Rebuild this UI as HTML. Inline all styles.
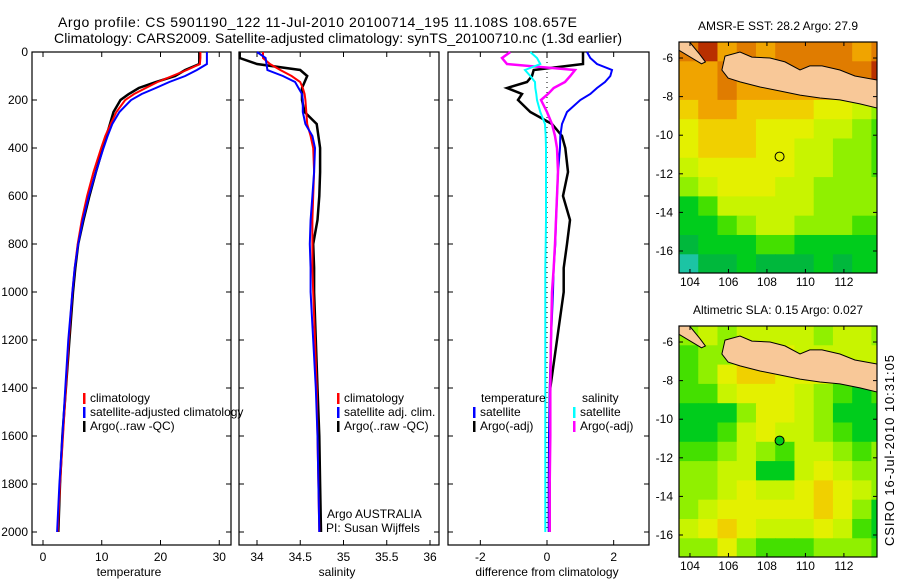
<!DOCTYPE html>
<html><head><meta charset="utf-8"><style>
html,body{margin:0;padding:0;background:#fff;}
svg{display:block;font-family:"Liberation Sans",sans-serif;}
</style></head><body>
<svg id="fig" width="900" height="580" viewBox="0 0 900 580" xmlns="http://www.w3.org/2000/svg">
<text x="58" y="27" font-size="14" textLength="519">Argo profile: CS 5901190_122 11-Jul-2010 20100714_195 11.108S 108.657E</text>
<text x="54" y="43" font-size="14" textLength="568">Climatology: CARS2009. Satellite-adjusted climatology: synTS_20100710.nc (1.3d earlier)</text>
<text transform="translate(894,546) rotate(-90)" font-size="13" textLength="191">CSIRO 16-Jul-2010 10:31:05</text>
</svg>
<script>
// ---------- DATA ----------
const depths = [0,25,50,75,100,125,150,175,200,250,300,350,400,500,600,700,800,900,1000,1200,1400,1600,1800,2000];
const tempClim = [26.8,26.8,26.7,24.5,22,19.5,17.5,15.5,14,12.5,11.5,10.6,9.9,8.6,7.5,6.6,5.9,5.4,5.0,4.4,3.9,3.4,2.9,2.5];
const tempSat  = [27.9,27.9,27.9,26.2,24.2,21.5,19.2,16.8,15,13,11.8,11,10.3,9,7.8,6.8,6.0,5.4,5.0,4.3,3.8,3.3,2.8,2.4];
const tempArgo = [26.6,26.6,26.6,24.2,22.5,19.2,16.3,14.6,13.2,12,11.4,10.8,10.2,9,7.9,6.9,6.0,5.5,5.1,4.5,3.9,3.3,2.9,2.6];
const salClim  = [34.07,34.07,34.15,34.27,34.4,34.5,34.53,34.55,34.56,34.57,34.58,34.62,34.65,34.66,34.65,34.64,34.64,34.64,34.65,34.67,34.69,34.7,34.71,34.72];
const salSat   = [34.0,34.1,34.11,34.12,34.3,34.44,34.48,34.52,34.53,34.53,34.56,34.64,34.67,34.66,34.64,34.62,34.61,34.62,34.62,34.65,34.68,34.7,34.71,34.72];
const salArgo  = [33.8,33.8,34.0,34.5,34.58,34.55,34.52,34.52,34.52,34.55,34.69,34.71,34.73,34.73,34.72,34.7,34.65,34.66,34.66,34.68,34.7,34.72,34.73,34.74];
const dTempSat  = [1.2,1.3,1.5,1.95,1.9,1.74,1.5,1.3,1.0,0.6,0.45,0.4,0.39,0.33,0.3,0.27,0.25,0.2,0.18,0.12,0.08,0.06,0.05,0.05];
const dTempArgo = [1.08,1.08,1.08,-0.4,-0.45,-0.6,-1.2,-0.75,-0.87,-0.5,0.15,0.45,0.55,0.63,0.48,0.69,0.6,0.5,0.5,0.3,0.1,0.08,0.08,0.08];
const dSalSat   = [-0.5,-0.3,-0.2,-0.66,-0.5,-0.36,-0.35,-0.32,-0.3,-0.2,-0.06,-0.04,-0.03,-0.03,-0.03,-0.03,-0.04,-0.05,-0.05,-0.05,-0.05,-0.05,-0.05,-0.05];
const dSalArgo  = [-1.1,-1.35,-1.2,0.84,0.7,0.54,0.2,0.03,-0.18,0,0.15,0.24,0.3,0.33,0.3,0.27,0.24,0.2,0.15,0.12,0.1,0.1,0.08,0.08];
const depthTicks = [0,200,400,600,800,1000,1200,1400,1600,1800,2000];
const tempTicks = [0,10,20,30];
const salTicks = [34,34.5,35,35.5,36];
const diffTicks = [-2,0,2];
const lonTicks = [104,106,108,110,112];
const latTicks = [-6,-8,-10,-12,-14,-16];
const sstGrid = [
[9,10,8,9,8,9,9,9,9,8,9],
[8,8,9,8,9,9,9,9,9,9,10],
[8,8,9,8,8,8,8,8,8,8,8],
[7,8,8,7,7,7,7,6,6,5,4],
[6,7,7,7,6,6,6,5,5,4,3],
[6,7,7,7,6,6,5,5,4,4,3],
[5,6,6,6,6,6,5,5,4,4,3],
[4,5,6,6,6,5,5,4,4,4,4],
[2,3,5,5,5,5,5,4,4,4,4],
[2,2,3,4,5,5,4,4,4,3,3],
[1,2,2,2,3,3,2,2,2,2,2],
[0,1,1,2,1,1,1,2,1,2,2]];
const slaGrid = [
[4,5,4,5,5,5,5,4,5,5,4],
[3,4,4,5,6,6,5,5,5,5,5],
[3,4,6,7,7,6,6,6,5,5,5],
[3,3,5,6,6,6,5,4,3,2,3],
[2,2,2,4,6,6,5,4,2,2,2],
[2,2,3,5,6,5,5,4,3,2,2],
[3,3,4,5,4,3,5,5,4,3,4],
[4,4,5,5,2,2,5,6,5,4,4],
[4,4,5,6,5,5,6,7,6,5,4],
[4,5,6,6,6,6,6,7,6,4,2],
[5,6,7,6,5,5,5,6,5,3,2],
[4,4,6,4,3,3,3,4,4,4,3]];
const palette = ["#1cc4a4","#00b83c","#00cc1c","#44e000","#90f000","#c8f400","#e4f000","#f0d000","#f0a400","#e07c00","#b83000"];
const javaLon = [105.82,106.6,107.22,108.16,108.94,109.72,110.23,110.86,111.79,112.57,113.72,113.72,112.83,111.79,110.76,109.72,108.68,107.64,106.6,105.98,105.66];
const javaLat = [-5.9,-5.69,-5.95,-6.0,-6.2,-6.62,-6.41,-6.41,-6.62,-6.93,-7.14,-8.59,-8.38,-8.17,-8.07,-7.92,-7.71,-7.5,-7.24,-7.04,-6.62];
const sumLon = [103.43,103.98,104.5,104.8,104.6,103.43];
const sumLat = [-5.17,-5.17,-5.8,-6.2,-6.3,-5.6];
const argoLon = 108.657, argoLat = -11.108;

// ---------- HELPERS ----------
const NS = "http://www.w3.org/2000/svg";
const svg = document.getElementById("fig");
function mk(tag, attrs, parent){const e=document.createElementNS(NS,tag);for(const k in attrs)e.setAttribute(k,attrs[k]);(parent||svg).appendChild(e);return e;}
const yD = d => 52 + d*0.24;
const P = {top:52,bot:545};
function panel(x0,x1,vmin,vmax,name){return {x0,x1,sx:v=>x0+(v-vmin)/(vmax-vmin)*(x1-x0),name};}
const p1 = panel(32,231,-1.87,32.0,"temperature");
const p2 = panel(239,439,33.792,36.104,"salinity");
const p3 = panel(448,649,-2.97,3.06,"difference");

function frame(p, leftLabels){
  const r = mk("rect",{x:p.x0,y:P.top,width:p.x1-p.x0,height:P.bot-P.top,fill:"none",stroke:"#000","stroke-width":1.2});
  
  
  depthTicks.forEach(d=>{
    const y=yD(d);
    const t1=mk("line",{x1:p.x0,x2:p.x0+5,y1:y,y2:y,stroke:"#000"});
    
    
    const t2=mk("line",{x1:p.x1,x2:p.x1-5,y1:y,y2:y,stroke:"#000"});
    
    
    if(leftLabels){
      const tl=mk("text",{x:28,y:y+4,"font-size":12,"text-anchor":"end"});tl.textContent=d;
      
      
    }
  });
}
function xticks(p,ticks,title,tx){
  ticks.forEach(v=>{
    const x=p.sx(v);
    const a=mk("line",{x1:x,x2:x,y1:P.bot,y2:P.bot-5,stroke:"#000"});
    
    
    const b=mk("line",{x1:x,x2:x,y1:P.top,y2:P.top+5,stroke:"#000"});
    
    
    const t=mk("text",{x:x,y:561,"font-size":12,"text-anchor":"middle"});t.textContent=v;
    
    
  });
  const t=mk("text",{x:tx,y:576,"font-size":12,"text-anchor":"middle"});t.textContent=title;
  
  
}
function series(p,vals,color,w,name,dash){
  const pts=vals.map((v,i)=>p.sx(v).toFixed(1)+","+yD(depths[i]).toFixed(1)).join(" ");
  const a={points:pts,fill:"none",stroke:color,"stroke-width":w,"stroke-linejoin":"miter"};
  if(dash)a["stroke-dasharray"]=dash;
  const e=mk("polyline",a);
  
  
}
function legendRow(x,y,color,label){
  const b=mk("rect",{x:x,y:y-9,width:2.5,height:11,fill:color});
  
  
  const t=mk("text",{x:x+7,y:y,"font-size":12});t.textContent=label;
  
  
}

// ---------- PANEL 1 ----------
frame(p1,true);
xticks(p1,tempTicks,"temperature",129);
series(p1,tempArgo,"#000",2.5,"temp-argo-line");
series(p1,tempClim,"#f00",2,"temp-climatology-line");
series(p1,tempSat,"#00f",2,"temp-satellite-line");
legendRow(83,402,"#f00","climatology");
legendRow(83,416,"#00f","satellite-adjusted climatology");
legendRow(83,430,"#000","Argo(..raw -QC)");
// ---------- PANEL 2 ----------
frame(p2,false);
xticks(p2,salTicks,"salinity",337);
series(p2,salArgo,"#000",2.5,"sal-argo-line");
series(p2,salClim,"#f00",2,"sal-climatology-line");
series(p2,salSat,"#00f",2,"sal-satellite-line");
legendRow(337,402,"#f00","climatology");
legendRow(337,416,"#00f","satellite adj. clim.");
legendRow(337,430,"#000","Argo(..raw -QC)");
{const t=mk("text",{x:327,y:518,"font-size":12});t.textContent="Argo AUSTRALIA";


const t2=mk("text",{x:326,y:532,"font-size":12});t2.textContent="PI: Susan Wijffels";

}
// ---------- PANEL 3 ----------
frame(p3,false);
xticks(p3,diffTicks,"difference from climatology",547);
{const z=mk("line",{x1:p3.sx(0),x2:p3.sx(0),y1:P.top,y2:yD(2000),stroke:"#000","stroke-dasharray":"1,4"});

}
series(p3,dTempArgo,"#000",2.5,"diff-temp-argo-line");
series(p3,dTempSat,"#00f",2,"diff-temp-satellite-line");
series(p3,dSalArgo,"#f0f",2.5,"diff-sal-argo-line");
series(p3,dSalSat,"#0ff",2,"diff-sal-satellite-line");
{const t=mk("text",{x:481,y:402,"font-size":12});t.textContent="temperature";


const t2=mk("text",{x:582,y:402,"font-size":12});t2.textContent="salinity";

}
legendRow(473,416,"#00f","satellite");
legendRow(473,430,"#000","Argo(-adj)");
legendRow(573,416,"#0ff","satellite");
legendRow(573,430,"#f0f","Argo(-adj)");

// ---------- MAPS ----------
function drawMap(grid, top, title, name, markerFill){
  const M={x0:679,x1:877,y0:top,y1:top+231,lon0:103.43,lon1:113.72,lat0:-5.17,lat1:-17.14};
  const mx=lon=>M.x0+(lon-M.lon0)/(M.lon1-M.lon0)*(M.x1-M.x0);
  const my=lat=>M.y0+(lat-M.lat0)/(M.lat1-M.lat0)*(M.y1-M.y0);
  const g=mk("g",{});
  
  
  const cid=name+"-clip";
  const cp=mk("clipPath",{id:cid},g);mk("rect",{x:M.x0,y:M.y0,width:M.x1-M.x0,height:M.y1-M.y0},cp);
  const cg=mk("g",{"clip-path":"url(#"+cid+")"},g);
  grid.forEach((row,r)=>row.forEach((v,c)=>{
    const x=mx(M.lon0+c), y=my(M.lat0-r);
    const cell=mk("rect",{x:x,y:y,width:mx(M.lon0+c+1)-x+0.5,height:my(M.lat0-r-1)-y+0.5,fill:palette[v]},cg);
    
    
  }));
  const poly=(lons,lats,nm)=>{
    const e=mk("polygon",{points:lons.map((l,i)=>mx(l).toFixed(1)+","+my(lats[i]).toFixed(1)).join(" "),fill:"#f8c898",stroke:"#000","stroke-width":1},cg);
    
    
  };
  poly(javaLon,javaLat,"java-land");
  poly(sumLon,sumLat,"sumatra-land");
  const f=mk("rect",{x:M.x0,y:M.y0,width:M.x1-M.x0,height:M.y1-M.y0,fill:"none",stroke:"#000","stroke-width":1.2},g);
  
  
  lonTicks.forEach(l=>{
    const x=mx(l);
    const a=mk("line",{x1:x,x2:x,y1:M.y1,y2:M.y1-4,stroke:"#000"},g);
    
    
    const b=mk("line",{x1:x,x2:x,y1:M.y0,y2:M.y0+4,stroke:"#000"},g);
    
    
    const t=mk("text",{x:x,y:M.y1+13,"font-size":12,"text-anchor":"middle"},g);t.textContent=l;
    
    
  });
  latTicks.forEach(l=>{
    const y=my(l);
    const a=mk("line",{x1:M.x0,x2:M.x0+4,y1:y,y2:y,stroke:"#000"},g);
    
    
    const b=mk("line",{x1:M.x1,x2:M.x1-4,y1:y,y2:y,stroke:"#000"},g);
    
    
    const t=mk("text",{x:673,y:y+4,"font-size":12,"text-anchor":"end"},g);t.textContent=l;
    
    
  });
  const c=mk("circle",{cx:mx(argoLon),cy:my(argoLat),r:4.5,fill:markerFill,stroke:"#000","stroke-width":1},g);
  
  
  const t=mk("text",{x:778,y:top-12,"font-size":12,"text-anchor":"middle"},g);t.textContent=title;
  
  
}
drawMap(sstGrid,42,"AMSR-E SST: 28.2 Argo: 27.9","sst-map","none");
drawMap(slaGrid,326,"Altimetric SLA: 0.15 Argo: 0.027","sla-map","#00cc1c");
</script>
</body></html>
